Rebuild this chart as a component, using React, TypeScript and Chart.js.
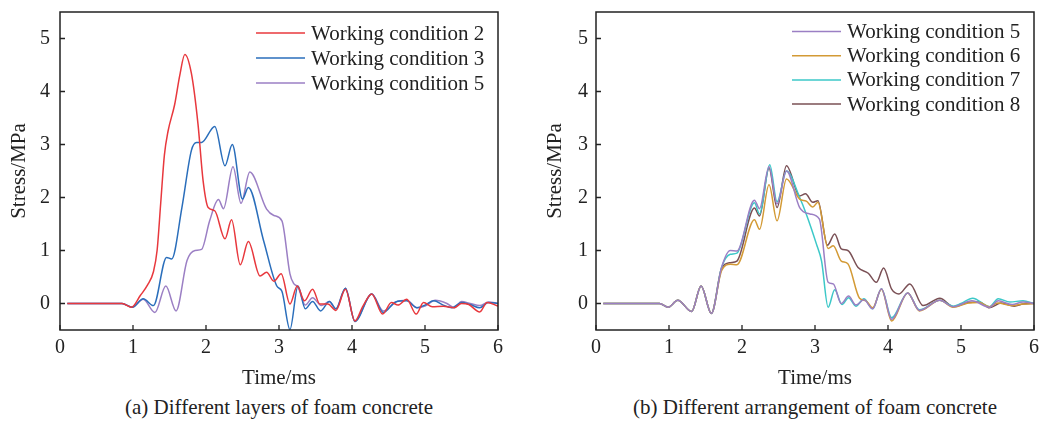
import React, { useEffect, useRef } from "react";
import { Chart, registerables } from "chart.js";

Chart.register(...registerables);

const FONT = "'Liberation Serif', 'Times New Roman', serif";

const timeTicks = [0, 1, 2, 3, 4, 5, 6];
const stressTicks = [0, 1, 2, 3, 4, 5];

// Panel (a)
const wc2T = [0.1, 0.85, 0.98, 1.1, 1.2, 1.28, 1.33, 1.38, 1.43, 1.48, 1.57, 1.64, 1.71, 1.8, 1.89, 1.96, 2.03, 2.12, 2.26, 2.35, 2.47, 2.58, 2.74, 2.83, 2.93, 3.03, 3.15, 3.25, 3.35, 3.46, 3.56, 3.67, 3.78, 3.91, 4.04, 4.15, 4.27, 4.42, 4.54, 4.63, 4.75, 4.88, 4.98, 5.1, 5.25, 5.4, 5.5, 5.6, 5.75, 5.85, 6.0];
const wc2Y = [0, 0, -0.07, 0.15, 0.35, 0.6, 1.0, 1.9, 2.8, 3.25, 3.75, 4.3, 4.7, 4.34, 3.39, 2.32, 1.81, 1.75, 1.22, 1.58, 0.73, 1.17, 0.52, 0.59, 0.42, 0.56, -0.01, 0.33, 0.05, 0.27, -0.01, -0.01, -0.13, 0.27, -0.33, -0.05, 0.18, -0.2, 0.02, -0.03, 0.08, -0.2, 0.02, -0.06, -0.05, -0.08, 0.0, -0.02, -0.16, 0.02, -0.05];

const wc3T = [0.1, 0.85, 0.99, 1.14, 1.28, 1.46, 1.53, 1.67, 1.8, 1.87, 1.94, 2.12, 2.26, 2.36, 2.5, 2.58, 2.79, 2.97, 3.04, 3.15, 3.26, 3.36, 3.46, 3.57, 3.69, 3.78, 3.91, 4.04, 4.27, 4.43, 4.6, 4.75, 4.89, 5.0, 5.12, 5.25, 5.37, 5.5, 5.62, 5.75, 5.87, 6.0];
const wc3Y = [0, 0, -0.07, 0.09, -0.04, 0.87, 0.84, 1.81, 2.89, 3.04, 3.04, 3.34, 2.6, 3.0, 1.97, 2.19, 1.18, 0.33, 0.23, -0.49, 0.33, -0.1, 0.04, -0.14, 0.04, -0.1, 0.29, -0.34, 0.18, -0.17, 0.03, 0.05, -0.08, -0.03, 0.05, -0.03, -0.08, 0.02, -0.02, -0.08, 0.02, 0.0];

const wc5T = [0.1, 0.85, 0.99, 1.14, 1.3, 1.45, 1.59, 1.74, 1.85, 1.94, 2.05, 2.17, 2.24, 2.37, 2.48, 2.6, 2.83, 2.93, 3.04, 3.15, 3.2, 3.26, 3.36, 3.46, 3.58, 3.69, 3.78, 3.91, 4.04, 4.27, 4.43, 4.6, 4.75, 4.89, 5.0, 5.14, 5.3, 5.4, 5.5, 5.62, 5.75, 5.87, 6.0];
const wc5Y = [0, 0, -0.07, 0.08, -0.17, 0.33, -0.14, 0.81, 1.0, 1.02, 1.56, 1.96, 1.79, 2.58, 1.89, 2.48, 1.78, 1.66, 1.56, 0.56, 0.38, 0.31, -0.03, 0.11, -0.04, 0.04, -0.1, 0.29, -0.33, 0.18, -0.14, 0.03, 0.06, -0.08, -0.05, 0.06, 0.0, -0.08, 0.04, 0.0, -0.04, 0.03, 0.0];

// Panel (b)
const b5T = [0.1, 0.87, 0.99, 1.12, 1.31, 1.44, 1.58, 1.72, 1.84, 1.93, 2.17, 2.24, 2.37, 2.48, 2.61, 2.79, 2.93, 3.06, 3.18, 3.25, 3.36, 3.46, 3.56, 3.67, 3.79, 3.91, 4.05, 4.27, 4.43, 4.71, 4.89, 5.15, 5.39, 5.51, 5.7, 5.85, 6.0];
const b5Y = [0, 0, -0.07, 0.06, -0.15, 0.33, -0.19, 0.68, 1.0, 0.99, 1.95, 1.79, 2.58, 1.88, 2.5, 1.81, 1.69, 1.59, 0.4, 0.37, 0.0, 0.14, -0.03, 0.07, -0.1, 0.28, -0.3, 0.2, -0.13, 0.06, -0.06, 0.05, -0.07, 0.05, -0.02, 0.03, 0.0];

const b6T = [0.1, 0.87, 0.99, 1.12, 1.31, 1.44, 1.58, 1.72, 1.84, 1.93, 2.17, 2.24, 2.37, 2.48, 2.61, 2.79, 2.88, 2.97, 3.04, 3.18, 3.25, 3.36, 3.45, 3.61, 3.7, 3.79, 3.91, 4.05, 4.27, 4.43, 4.71, 4.89, 5.1, 5.25, 5.39, 5.5, 5.7, 5.85, 6.0];
const b6Y = [0, 0, -0.07, 0.06, -0.15, 0.33, -0.19, 0.62, 0.74, 0.73, 1.58, 1.4, 2.24, 1.56, 2.35, 1.97, 1.93, 1.82, 1.91, 1.04, 1.09, 0.8, 0.75, 0.1, 0.05, -0.08, 0.27, -0.33, 0.2, -0.14, 0.06, -0.07, 0.01, 0.02, -0.06, 0.01, -0.04, -0.01, 0.0];

const b7T = [0.1, 0.87, 0.99, 1.12, 1.31, 1.44, 1.58, 1.72, 1.84, 1.93, 2.17, 2.24, 2.38, 2.48, 2.61, 2.79, 2.88, 3.02, 3.09, 3.18, 3.27, 3.37, 3.46, 3.56, 3.67, 3.79, 3.91, 4.05, 4.27, 4.43, 4.71, 4.89, 5.0, 5.16, 5.39, 5.51, 5.67, 5.85, 6.0];
const b7Y = [0, 0, -0.07, 0.06, -0.15, 0.33, -0.19, 0.68, 0.93, 0.95, 1.9, 1.69, 2.62, 1.92, 2.5, 2.0, 1.69, 1.12, 0.8, -0.07, 0.26, -0.02, 0.11, -0.05, 0.09, -0.1, 0.28, -0.27, 0.2, -0.12, 0.06, -0.05, 0.0, 0.1, -0.06, 0.09, 0.03, 0.05, 0.0];

const b8T = [0.1, 0.87, 0.99, 1.12, 1.31, 1.44, 1.58, 1.72, 1.84, 1.93, 2.17, 2.24, 2.37, 2.48, 2.61, 2.79, 2.87, 2.97, 3.04, 3.17, 3.27, 3.36, 3.45, 3.59, 3.73, 3.84, 3.94, 4.05, 4.15, 4.3, 4.48, 4.71, 4.9, 5.1, 5.25, 5.39, 5.55, 5.73, 5.85, 6.0];
const b8Y = [0, 0, -0.07, 0.06, -0.15, 0.33, -0.19, 0.66, 0.77, 0.8, 1.8, 1.65, 2.55, 1.81, 2.6, 2.03, 2.07, 1.91, 1.94, 1.1, 1.31, 1.03, 1.0, 0.68, 0.57, 0.4, 0.67, 0.27, 0.18, 0.37, -0.04, 0.1, -0.06, 0.02, 0.03, -0.08, 0.01, -0.05, -0.01, 0.0];

type Series = { label: string; color: string; t: number[]; y: number[] };

const seriesA: Series[] = [
  { label: "Working condition 2", color: "#e8383d", t: wc2T, y: wc2Y },
  { label: "Working condition 3", color: "#2a6ebb", t: wc3T, y: wc3Y },
  { label: "Working condition 5", color: "#9b7fc4", t: wc5T, y: wc5Y },
];

const seriesB: Series[] = [
  { label: "Working condition 5", color: "#9b7fc4", t: b5T, y: b5Y },
  { label: "Working condition 6", color: "#d39a35", t: b6T, y: b6Y },
  { label: "Working condition 7", color: "#3cc8c8", t: b7T, y: b7Y },
  { label: "Working condition 8", color: "#7a5055", t: b8T, y: b8Y },
];

type PanelProps = {
  left: number;
  width: number;
  height: number;
  areaLeft: number;
  areaRight: number;
  areaTop: number;
  areaBottom: number;
  yTitlePad: number;
  yTickPad: number;
  legendTop: number;
  legendGap: number;
  series: Series[];
  caption: string;
};

function Panel(p: PanelProps) {
  const ref = useRef<HTMLCanvasElement | null>(null);

  useEffect(() => {
    if (!ref.current) return;
    const frame = {
      id: "frame",
      afterDraw(chart: any) {
        const { ctx, chartArea } = chart;
        const { left, right, top, bottom } = chartArea;
        ctx.save();
        ctx.strokeStyle = "#222";
        ctx.lineWidth = 1.5;
        ctx.strokeRect(left, top, right - left, bottom - top);
        ctx.lineWidth = 1.3;
        const xs = chart.scales.x;
        const ys = chart.scales.y;
        ctx.beginPath();
        timeTicks.forEach((v) => {
          const px = xs.getPixelForValue(v);
          ctx.moveTo(px, bottom);
          ctx.lineTo(px, bottom - 5);
        });
        stressTicks.forEach((v) => {
          const py = ys.getPixelForValue(v);
          ctx.moveTo(left, py);
          ctx.lineTo(left + 5, py);
        });
        ctx.stroke();
        // legend
        ctx.font = `21px ${FONT}`;
        ctx.textBaseline = "middle";
        ctx.textAlign = "left";
        p.series.forEach((s, i) => {
          const yy = top + p.legendTop + i * p.legendGap;
          ctx.strokeStyle = s.color;
          ctx.lineWidth = 1.5;
          ctx.beginPath();
          ctx.moveTo(right - 242, yy);
          ctx.lineTo(right - 193, yy);
          ctx.stroke();
          ctx.fillStyle = "#222";
          ctx.fillText(s.label, right - 187, yy + 1);
        });
        ctx.restore();
      },
    };

    const chart = new Chart(ref.current, {
      type: "line",
      data: {
        datasets: p.series.map((s) => ({
          label: s.label,
          data: s.t.map((t, i) => ({ x: t, y: s.y[i] })),
          borderColor: s.color,
          borderWidth: 1.5,
          pointRadius: 0,
          fill: false,
          cubicInterpolationMode: "monotone" as const,
        })),
      },
      options: {
        animation: false,
        responsive: false,
        maintainAspectRatio: false,
        layout: {
          padding: { top: p.areaTop, right: p.width - p.areaRight, left: 0, bottom: 0 },
        },
        plugins: { legend: { display: false }, title: { display: false }, tooltip: { enabled: false } },
        scales: {
          x: {
            type: "linear",
            min: 0,
            max: 6,
            grid: { display: false, drawTicks: false },
            border: { display: false },
            afterBuildTicks: (s: any) => {
              s.ticks = timeTicks.map((v) => ({ value: v }));
            },
            afterFit: (s: any) => {
              s.height = p.height - p.areaBottom;
              s.paddingLeft = 0;
              s.paddingRight = 0;
              s.paddingTop = 0;
              s.paddingBottom = 0;
            },
            ticks: {
              color: "#222",
              padding: 6,
              maxRotation: 0,
              autoSkip: false,
              font: { family: FONT, size: 20 },
            },
            title: {
              display: true,
              text: "Time/ms",
              color: "#222",
              font: { family: FONT, size: 21 },
              padding: { top: 0, bottom: 4 },
            },
          },
          y: {
            type: "linear",
            min: -0.5,
            max: 5.5,
            grid: { display: false, drawTicks: false },
            border: { display: false },
            afterBuildTicks: (s: any) => {
              s.ticks = stressTicks.map((v) => ({ value: v }));
            },
            afterFit: (s: any) => {
              s.width = p.areaLeft;
              s.paddingLeft = 0;
              s.paddingRight = 0;
              s.paddingTop = 0;
              s.paddingBottom = 0;
            },
            ticks: {
              color: "#222",
              padding: p.yTickPad,
              font: { family: FONT, size: 20 },
            },
            title: {
              display: true,
              text: "Stress/MPa",
              color: "#222",
              font: { family: FONT, size: 21 },
              padding: { top: p.yTitlePad, bottom: 0 },
            },
          },
        },
      },
      plugins: [frame],
    });
    return () => chart.destroy();
  }, []);

  const centerX = p.left + (p.areaLeft + p.areaRight) / 2;
  return (
    <>
      <div style={{ position: "absolute", left: p.left, top: 0, width: p.width, height: p.height }}>
        <canvas ref={ref} width={p.width} height={p.height} style={{ width: p.width, height: p.height, display: "block" }} />
      </div>
      <div
        style={{
          position: "absolute",
          left: centerX,
          top: 395,
          transform: "translateX(-50%)",
          whiteSpace: "nowrap",
          fontFamily: FONT,
          fontSize: 21,
          lineHeight: "24px",
          color: "#222",
        }}
      >
        {p.caption}
      </div>
    </>
  );
}

export default function App() {
  return (
    <div style={{ position: "fixed", left: 0, top: 0, width: 1043, height: 421, background: "#fff", overflow: "hidden" }}>
      <Panel
        left={0}
        width={521}
        height={395}
        areaLeft={60}
        areaRight={498}
        areaTop={12}
        areaBottom={330}
        yTitlePad={7}
        yTickPad={10}
        legendTop={21}
        legendGap={25}
        series={seriesA}
        caption="(a) Different layers of foam concrete"
      />
      <Panel
        left={521}
        width={522}
        height={395}
        areaLeft={75}
        areaRight={513}
        areaTop={12}
        areaBottom={330}
        yTitlePad={22}
        yTickPad={8}
        legendTop={19.5}
        legendGap={24.2}
        series={seriesB}
        caption="(b) Different arrangement of foam concrete"
      />
    </div>
  );
}
